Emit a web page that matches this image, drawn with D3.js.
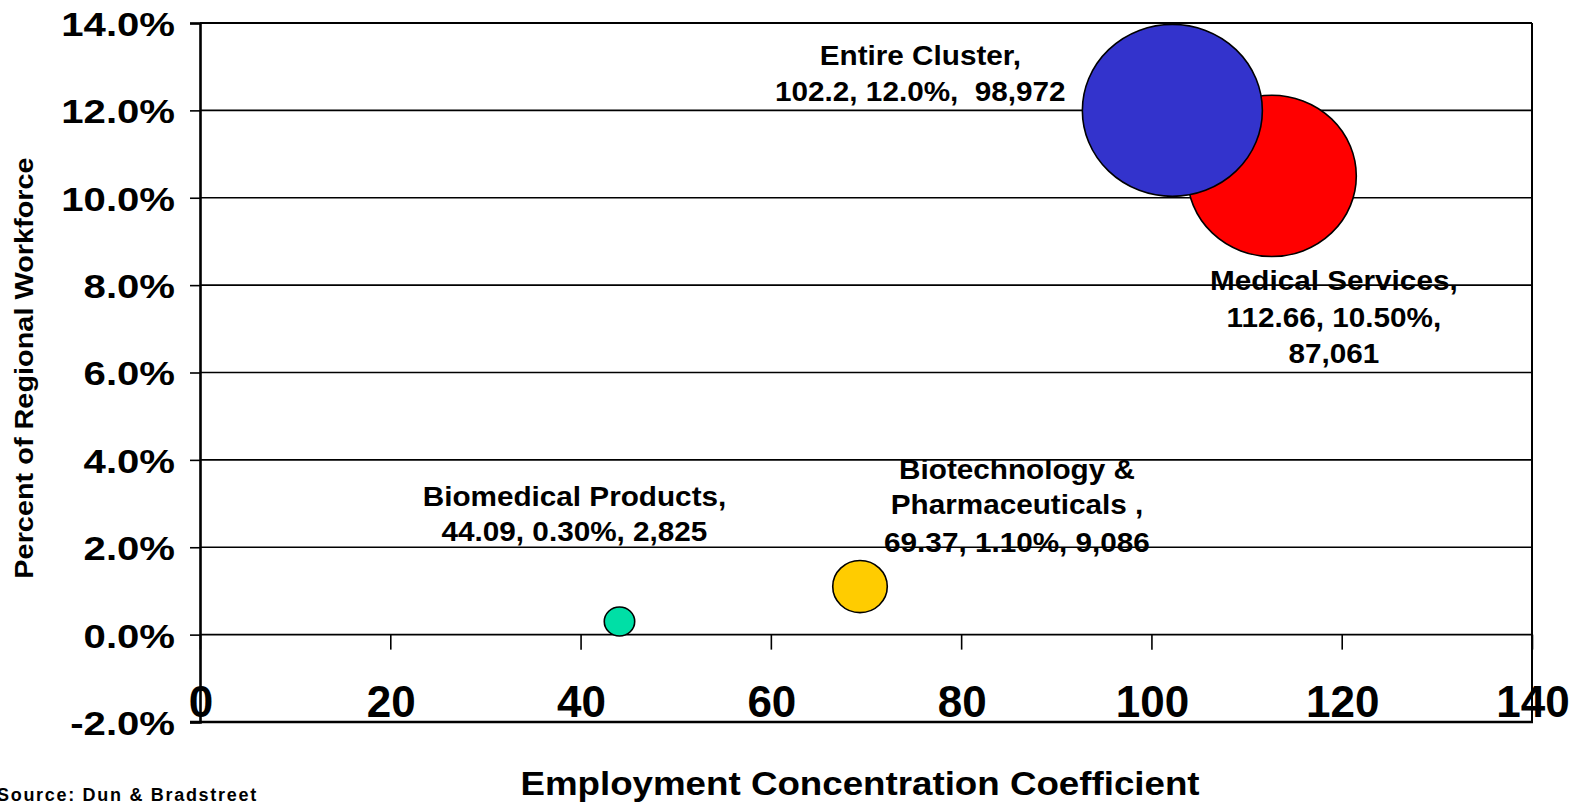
<!DOCTYPE html>
<html>
<head>
<meta charset="utf-8">
<script src="https://cdn.jsdelivr.net/npm/d3@7"></script>
<style>
  html, body { margin: 0; padding: 0; background: #fff; }
  svg { display: block; }
  text { font-family: "Liberation Sans", Arial, sans-serif; font-weight: bold; fill: #000; }
</style>
</head>
<body>
<svg id="chart" width="1585" height="804"></svg>
<script>
// Cluster bubble chart: concentration coefficient vs share of workforce

// data
const clusters = ["Medical Services", "Entire Cluster", "Biomedical Products", "Biotechnology & Pharmaceuticals"];
const coefficients = [112.66, 102.2, 44.09, 69.37];
const shares = [10.5, 12.0, 0.3, 1.1];
const employment = [87061, 98972, 2825, 9086];
const labelLines = [
  ["Medical Services,", "112.66, 10.50%,", "87,061"],
  ["Entire Cluster,", "102.2, 12.0%,  98,972"],
  ["Biomedical Products,", "44.09, 0.30%, 2,825"],
  ["Biotechnology &", "Pharmaceuticals ,", "69.37, 1.10%, 9,086"]
];
const xTicks = [0, 20, 40, 60, 80, 100, 120, 140];
const yTicks = [14, 12, 10, 8, 6, 4, 2, 0, -2];

// styling, kept apart from the data
const colours = ["#ff0000", "#3333cc", "#00dfa6", "#ffcc00"];
const labelOffsets = [
  {dx: 62, dy: [114, 151, 187]},
  {dx: -252, dy: [-45, -9]},
  {dx: -45, dy: [-116, -81]},
  {dx: 157, dy: [-108, -73, -35]}
];

const svg = d3.select("#chart");
const m = {left: 200, right: 1532, top: 23, bottom: 722};

const x = d3.scaleLinear().domain([0, 140]).range([m.left, m.right]);
const y = d3.scaleLinear().domain([-2, 14]).range([m.bottom, m.top]);
const rx = d3.scaleSqrt().domain([0, d3.max(employment)]).range([0, 90]);
const ry = d3.scaleSqrt().domain([0, d3.max(employment)]).range([0, 86]);

// text looks a little wide in the original, stretch it along the baseline
function stretch(sel, sx){
  sel.attr("transform", function(){
    const t = d3.select(this);
    const px = +t.attr("x"), py = +t.attr("y");
    return "translate(" + px + "," + py + ") scale(" + sx + ",1) translate(" + (-px) + "," + (-py) + ")";
  });
}

// gridlines
svg.append("g").selectAll("line").data(yTicks.filter(d => d >= 0)).join("line")
  .attr("x1", m.left).attr("x2", m.right)
  .attr("y1", d => y(d)).attr("y2", d => y(d))
  .attr("stroke", "#000").attr("stroke-width", d => d === 14 ? 2.2 : 1.6);

// frame: right and bottom
svg.append("line").attr("x1", m.right).attr("x2", m.right).attr("y1", m.top).attr("y2", m.bottom)
  .attr("stroke", "#000").attr("stroke-width", 2);
svg.append("line").attr("x1", m.left - 10).attr("x2", m.right + 1).attr("y1", m.bottom).attr("y2", m.bottom)
  .attr("stroke", "#000").attr("stroke-width", 2.4);

// y axis
const yAxis = svg.append("g").attr("transform", "translate(" + m.left + ",0)")
  .call(d3.axisLeft(y).tickValues(yTicks).tickSize(10).tickFormat(d => d.toFixed(1) + "%"));
yAxis.select(".domain").attr("stroke-width", 2.6);
yAxis.selectAll(".tick line").attr("stroke-width", 1.6);
yAxis.selectAll(".tick text").remove();
svg.append("g").selectAll("text").data(yTicks).join("text")
  .attr("x", 175).attr("y", d => y(d) + 13)
  .attr("text-anchor", "end").style("font-size", "34px")
  .text(d => d.toFixed(1) + "%")
  .call(stretch, 1.18);

// x axis sits on the 0% line, labels drop to the bottom of the frame
const xAxis = svg.append("g").attr("transform", "translate(0," + y(0) + ")")
  .call(d3.axisBottom(x).tickValues(xTicks).tickSize(15).tickFormat(""));
xAxis.select(".domain").remove();
xAxis.selectAll(".tick line").attr("stroke-width", 1.6);
svg.append("g").selectAll("text").data(xTicks).join("text")
  .attr("x", d => x(d) + 1).attr("y", 717)
  .attr("text-anchor", "middle").style("font-size", "44px")
  .text(d => d);

// bubbles
const idx = d3.range(clusters.length);
svg.append("g").selectAll("ellipse").data(idx).join("ellipse")
  .attr("cx", i => x(coefficients[i]))
  .attr("cy", i => y(shares[i]))
  .attr("rx", i => rx(employment[i]))
  .attr("ry", i => ry(employment[i]))
  .attr("fill", i => colours[i])
  .attr("stroke", "#000").attr("stroke-width", 1.6);

// data labels
const labels = svg.append("g").selectAll("g").data(idx).join("g");
labels.each(function(i){
  const g = d3.select(this);
  const cx = x(coefficients[i]) + labelOffsets[i].dx;
  const cy = y(shares[i]);
  labelLines[i].forEach((line, k) => {
    g.append("text")
      .attr("x", cx).attr("y", cy + labelOffsets[i].dy[k])
      .attr("text-anchor", "middle").style("font-size", "27px")
      .style("white-space", "pre")
      .text(line)
      .call(stretch, 1.1);
  });
});

// axis titles
svg.append("text")
  .attr("transform", "translate(33,368) rotate(-90) scale(1.155,1)")
  .attr("text-anchor", "middle").style("font-size", "25px")
  .text("Percent of Regional Workforce");

svg.append("text")
  .attr("x", 860).attr("y", 795)
  .attr("text-anchor", "middle").style("font-size", "34px")
  .text("Employment Concentration Coefficient")
  .call(stretch, 1.08);

svg.append("text")
  .attr("x", -3).attr("y", 801)
  .style("font-size", "18px").style("letter-spacing", "1.7px")
  .text("Source: Dun & Bradstreet");
</script>
</body>
</html>
